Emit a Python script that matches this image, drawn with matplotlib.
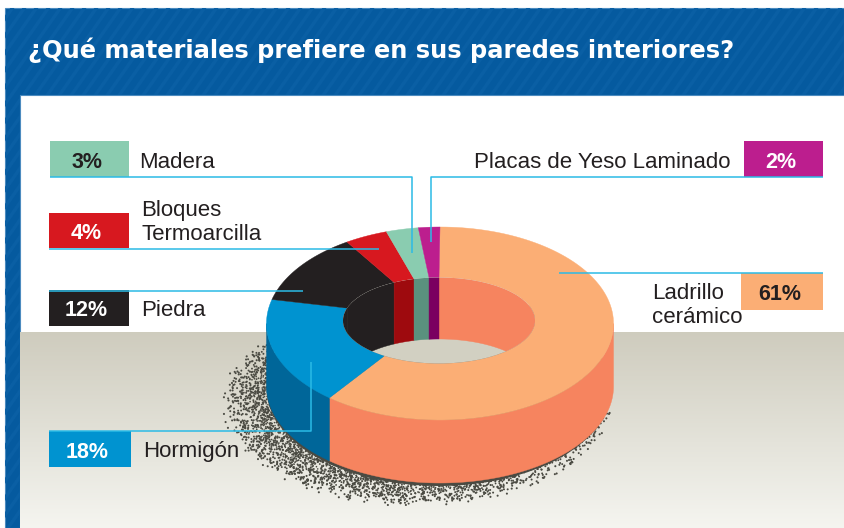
#!/bin/python3

import matplotlib
matplotlib.use("Agg")
import matplotlib.pyplot as plt
from matplotlib.patches import Ellipse, Rectangle, Polygon
import numpy as np

title = "¿Qué materiales prefiere en sus paredes interiores?"
names = ["Ladrillo\ncerámico", "Hormigón", "Piedra", "Bloques\nTermoarcilla", "Madera", "Placas de Yeso Laminado"]
values = [61, 18, 12, 4, 3, 2]
top_colors = ["#FBAE75", "#0093D0", "#231F20", "#D7181F", "#8ACCB0", "#BC1E8E"]
side_colors = ["#F6845F", "#006699", "#231F20", "#9E0A0E", "#5A917E", "#7A0060"]
inner_colors = ["#F6845F", "#231F20", "#231F20", "#9E0A0E", "#5A917E", "#7A0060"]

W, H = 844, 528
BLUE = "#055A9F"
LINE = "#2BBBE6"

# donut geometry, in pixels
cx, cy, rx, ry = 440, 323.5, 173.5, 96.5
hx, hy, hrx, hry = 439, 320.5, 96, 43
depth = 63
hole_depth = 61.5

fig = plt.figure(figsize=(W / 100, H / 100), dpi=100)
ax = fig.add_axes([0, 0, 1, 1])
ax.set_xlim(0, W)
ax.set_ylim(H, 0)
ax.axis("off")


def arc(x0, y0, a, b, angle_from, angle_to):
    # angles run clockwise from 12 o'clock, in degrees
    t = np.radians(np.linspace(angle_from, angle_to, 120))
    return np.column_stack([x0 + a * np.sin(t), y0 - b * np.cos(t)])


## FRAME AND BACKGROUND

frame = Polygon([(5, 528), (5, 8), (844, 8), (844, 95), (20, 95), (20, 528)], fc=BLUE, ec="#4C8BBF", lw=0.8, zorder=1)
ax.add_patch(frame)
for x in np.arange(-400, 900, 12):
    stripe, = ax.plot([x, x + 370], [528, 0], color="#0A5FA4", lw=2.5, zorder=1.1)
    stripe.set_clip_path(frame)

grad = np.linspace(0, 1, 200).reshape(-1, 1, 1)
ground = np.array([0.81, 0.80, 0.745]) * (1 - grad) + np.array([0.96, 0.96, 0.94]) * grad
ax.imshow(ground, extent=[20, W, H, 332], aspect="auto", zorder=1.2, interpolation="bilinear")
ax.set_xlim(0, W)
ax.set_ylim(H, 0)

## SPECKLED SHADOW (just texture, a fixed hash of the index)

n_dots = 30000
idx = np.arange(n_dots)
hash1 = np.modf(np.abs(np.sin(idx * 12.9898) * 43758.5453))[0]
hash2 = np.modf(np.abs(np.sin(idx * 78.233) * 24634.6345))[0]
hash3 = np.modf(np.abs(np.sin(idx * 39.425) * 14375.8545))[0]
rad = np.sqrt(hash1)
ang = hash2 * 2 * np.pi
sx = 417 + 196 * rad * np.cos(ang)
sy = 402 + 105 * rad * np.sin(ang)
keep = hash3 > (rad - 0.72) / 0.28
ax.scatter(sx[keep], sy[keep], s=0.5 + 1.8 * hash3[keep], color="#4A4A42", lw=0, zorder=2)
ax.add_patch(Ellipse((cx - 1, cy + depth + 2), 2 * rx - 2, 2 * ry + 2, fc="#4A4A42", ec="none", zorder=2.1))

## DONUT

edges = np.concatenate([[0], np.cumsum(values)]) * 3.6
# hole sits a bit off in the drawing's perspective, so its edges lean
hole_edges = edges - 5 * np.sin(np.radians(2 * edges))

# outer wall, only the front half shows
for i in range(len(values)):
    a, b = max(edges[i], 90), min(edges[i + 1], 270)
    if a < b:
        upper = arc(cx, cy, rx, ry, a, b)
        lower = upper[::-1] + [0, depth]
        ax.add_patch(Polygon(np.vstack([upper, lower]), fc=side_colors[i], ec=side_colors[i], lw=0.3, zorder=3))

# top of the ring
for i in range(len(values)):
    outer = arc(cx, cy, rx, ry, edges[i], edges[i + 1])
    inner = arc(hx, hy, hrx, hry, hole_edges[i + 1], hole_edges[i])
    ax.add_patch(Polygon(np.vstack([outer, inner]), fc=top_colors[i], ec=top_colors[i], lw=0.3, zorder=4))

# hole: floor first, then the back wall clipped to it
hole = Ellipse((hx, hy), 2 * hrx, 2 * hry, fc="#D2D0C2", ec="none", zorder=5)
ax.add_patch(hole)
for i in range(len(values)):
    for lo, hi in [(0, 90), (270, 360)]:
        a, b = max(hole_edges[i], lo), min(hole_edges[i + 1], hi)
        if a < b:
            upper = arc(hx, hy, hrx, hry, a, b)
            lower = upper[::-1] + [0, hole_depth]
            wall = Polygon(np.vstack([upper, lower]), fc=inner_colors[i], ec=inner_colors[i], lw=0.3, zorder=6)
            ax.add_patch(wall)
            wall.set_clip_path(hole)

## LABELS

# box x, y, width, height, then callout path, label position
boxes = [
    (741, 273, 82, 37),
    (49, 431, 82, 36),
    (49, 290, 80, 36),
    (49, 213, 80, 35),
    (50, 141, 79, 36),
    (744, 141, 79, 36),
]
paths = [
    [(823, 273), (559, 273)],
    [(49, 431), (311, 431), (311, 362)],
    [(49, 290.5), (303, 290.5)],
    [(49, 248.5), (379, 248.5)],
    [(50, 177), (412, 177), (412, 253)],
    [(823, 177), (431, 177), (431, 242)],
]
label_pos = [(652, 305.5, "left"), (143, 452, "left"), (141, 311, "left"), (141, 222.5, "left"), (139, 163, "left"), (730, 163, "right")]

for i, name in enumerate(names):
    x, y, w, h = boxes[i]
    ax.add_patch(Rectangle((x, y), w, h, fc=top_colors[i], ec="none", zorder=7))
    px, py = zip(*paths[i])
    ax.plot(px, py, color=LINE, lw=1.1, zorder=8, solid_capstyle="butt")
    txt_color = "white" if i in (1, 2, 3, 5) else "#231F20"
    ax.text(x + w / 2 - 2.5, y + h / 2 + 3, f"{values[i]}%", color=txt_color, fontsize=15.5, fontweight="bold",
            family="Liberation Sans", ha="center", va="center", zorder=9)
    lx, ly, ha = label_pos[i]
    ax.text(lx, ly, name, color="#231F20", fontsize=16, family="Liberation Sans", ha=ha, va="center",
            linespacing=1.22, zorder=9)

ax.text(28, 50, title, color="white", fontsize=17.4, fontweight="bold", family="DejaVu Sans", ha="left", va="center", zorder=9)

plt.savefig("out.png", dpi=100)
